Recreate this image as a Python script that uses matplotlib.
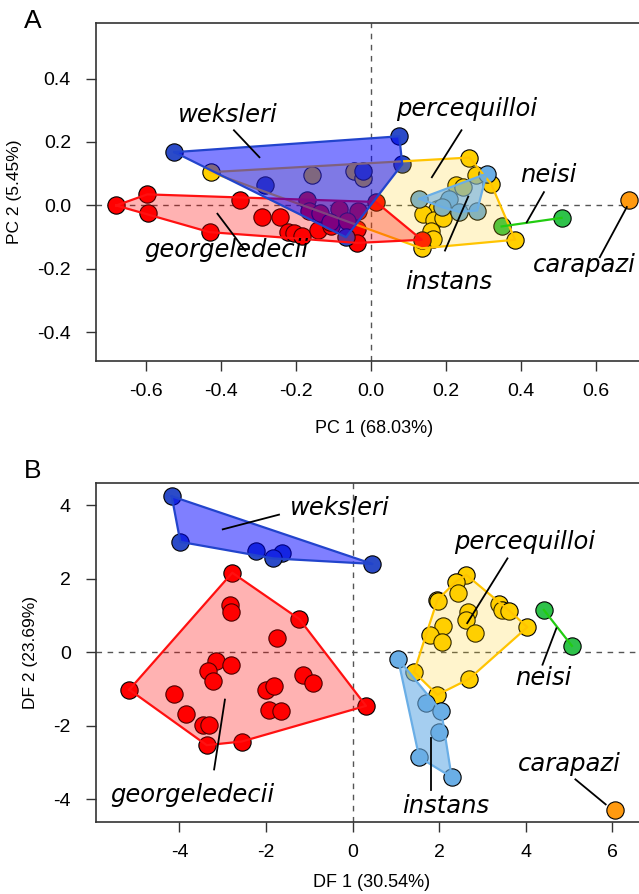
import matplotlib
matplotlib.use("Agg")
import matplotlib.pyplot as plt
import numpy as np

plt.rcParams['font.family'] = ['Liberation Sans', 'DejaVu Sans']

# ---- panel A: PCA scores ----
pca_weksleri_x = [-0.524, -0.282, -0.020, 0.076, 0.084, -0.066]
pca_weksleri_y = [0.168, 0.066, 0.108, 0.218, 0.130, -0.100]

pca_georgeledecii_x = [-0.679, -0.596, -0.593, -0.430, -0.350, -0.291, -0.242, -0.220,
                       -0.205, -0.184, -0.142, -0.107, -0.037, -0.036, 0.014, -0.171,
                       -0.164, -0.135, -0.084, -0.033, -0.108, 0.136, -0.064]
pca_georgeledecii_y = [0.000, 0.035, -0.024, -0.084, 0.016, -0.037, -0.035, -0.082,
                       -0.087, -0.095, -0.076, -0.065, -0.074, -0.118, 0.011, 0.016,
                       -0.016, -0.023, -0.011, -0.016, -0.053, -0.108, -0.050]

pca_percequilloi_x = [-0.427, -0.157, -0.046, -0.022, 0.263, 0.282, 0.321, 0.227, 0.203,
                      0.178, 0.140, 0.169, 0.194, 0.162, 0.167, 0.136, 0.385, 0.245]
pca_percequilloi_y = [0.105, 0.095, 0.108, 0.087, 0.151, 0.097, 0.068, 0.066, 0.007,
                      -0.011, -0.026, -0.045, -0.039, -0.079, -0.105, -0.135, -0.108, 0.058]

pca_instans_x = [0.130, 0.309, 0.284, 0.210, 0.190, 0.235]
pca_instans_y = [0.021, 0.100, -0.016, 0.021, -0.005, -0.020]

pca_neisi_x = [0.349, 0.509]
pca_neisi_y = [-0.066, -0.039]

pca_carapazi_x = [0.689]
pca_carapazi_y = [0.018]

# ---- panel B: DFA scores ----
dfa_weksleri_x = [-4.18, -3.98, -2.24, -1.64, -1.83, 0.46]
dfa_weksleri_y = [4.24, 3.00, 2.76, 2.71, 2.55, 2.40]

dfa_georgeledecii_x = [-2.78, -2.83, -2.81, -1.23, -1.75, -3.16, -2.82, -3.35, -3.23, -5.16,
                       -4.12, -3.86, -3.45, -3.32, -3.37, -2.56, -2.00, -1.81, -1.92, -1.66,
                       -1.14, -0.92, 0.31]
dfa_georgeledecii_y = [2.16, 1.29, 1.09, 0.90, 0.38, -0.24, -0.36, -0.52, -0.78, -1.02,
                       -1.14, -1.68, -1.99, -1.99, -2.53, -2.43, -1.02, -0.93, -1.57, -1.61,
                       -0.62, -0.84, -1.46]

dfa_percequilloi_x = [2.63, 2.39, 2.44, 1.96, 1.98, 3.39, 3.46, 3.62, 2.67, 2.62, 2.08, 1.80,
                      2.06, 2.84, 4.04, 1.42, 2.69, 1.96]
dfa_percequilloi_y = [2.10, 1.92, 1.60, 1.42, 1.38, 1.31, 1.15, 1.13, 1.10, 0.88, 0.70, 0.47,
                      0.29, 0.51, 0.68, -0.54, -0.73, -1.16]

dfa_instans_x = [1.05, 1.69, 2.05, 2.00, 1.54, 2.29]
dfa_instans_y = [-0.18, -1.39, -1.61, -2.17, -2.86, -3.40]

dfa_neisi_x = [4.42, 5.07]
dfa_neisi_y = [1.15, 0.17]

dfa_carapazi_x = [6.06]
dfa_carapazi_y = [-4.30]

# colours: point face, hull line, hull fill, fill alpha
styles = {
    'percequilloi': ('#FFD000', '#FFC400', '#FFCC00', 0.2),
    'instans': ('#6AAEE6', '#6AAEE6', '#6AAEE6', 0.6),
    'georgeledecii': ('#FF0000', '#FF1010', '#FF0000', 0.3),
    'weksleri': ('#2B4BC8', '#2244CC', '#0000FF', 0.5),
    'neisi': ('#2EC24A', '#22CC11', None, 0),
    'carapazi': ('#FF9A10', '#FF9A10', None, 0),
}


def hull(xs, ys):
    pts = sorted(set(zip(xs, ys)))
    if len(pts) < 3:
        return pts

    def cross(o, a, b):
        return (a[0] - o[0]) * (b[1] - o[1]) - (a[1] - o[1]) * (b[0] - o[0])

    lower, upper = [], []
    for p in pts:
        while len(lower) >= 2 and cross(lower[-2], lower[-1], p) <= 0:
            lower.pop()
        lower.append(p)
    for p in reversed(pts):
        while len(upper) >= 2 and cross(upper[-2], upper[-1], p) <= 0:
            upper.pop()
        upper.append(p)
    return lower[:-1] + upper[:-1]


def draw_panel(ax, groups, labels, xlim, ylim, xticks, yticks, xlabel, ylabel, ticklabels,
               xlabelpad=14):
    ax.axhline(0, color='#555555', lw=1, ls=(0, (4, 4)), zorder=1)
    ax.axvline(0, color='#555555', lw=1, ls=(0, (4, 4)), zorder=1)
    # points first, hulls drawn over them (translucent)
    for name, (xs, ys) in groups.items():
        face = styles[name][0]
        ax.scatter(xs, ys, s=155, c=face, edgecolors='black', linewidths=0.8, zorder=2)
    for name, (xs, ys) in groups.items():
        face, line, fill, alpha = styles[name]
        h = hull(xs, ys)
        if len(h) >= 3:
            hx = [p[0] for p in h] + [h[0][0]]
            hy = [p[1] for p in h] + [h[0][1]]
            ax.fill(hx, hy, color=fill, alpha=alpha, lw=0, zorder=3)
            ax.plot(hx, hy, color=line, lw=1.6, zorder=3)
        elif len(h) == 2:
            ax.plot([p[0] for p in h], [p[1] for p in h], color=line, lw=1.6, zorder=3)
    for text, (tx, ty, x0, y0, x1, y1) in labels.items():
        ax.plot([x0, x1], [y0, y1], color='black', lw=1.3, zorder=4)
        ax.text(tx, ty, text, ha='center', va='baseline', fontsize=17.5,
                style='italic', family='DejaVu Sans', zorder=5)
    ax.set_xlim(*xlim)
    ax.set_ylim(*ylim)
    ax.set_xticks(xticks)
    ax.set_yticks(yticks)
    ax.set_xticklabels(ticklabels[0])
    ax.set_yticklabels(ticklabels[1])
    ax.set_xlabel(xlabel, fontsize=13, labelpad=xlabelpad)
    ax.set_ylabel(ylabel, fontsize=12.5, labelpad=11)
    ax.tick_params(length=7, width=1, color='#333333', labelsize=14)
    ax.tick_params(axis='x', pad=9)
    ax.tick_params(axis='y', pad=11)
    for s in ax.spines.values():
        s.set_color('#333333')
        s.set_linewidth(1.2)


fig = plt.figure(figsize=(6.39, 8.94), dpi=100)
axA = fig.add_axes([0.1502, 0.5962, 0.870, 0.3781])
axB = fig.add_axes([0.1502, 0.0805, 0.862, 0.3792])

groupsA = {
    'percequilloi': (pca_percequilloi_x, pca_percequilloi_y),
    'instans': (pca_instans_x, pca_instans_y),
    'georgeledecii': (pca_georgeledecii_x, pca_georgeledecii_y),
    'weksleri': (pca_weksleri_x, pca_weksleri_y),
    'neisi': (pca_neisi_x, pca_neisi_y),
    'carapazi': (pca_carapazi_x, pca_carapazi_y),
}
labelsA = {
    'weksleri': (-0.382, 0.263, -0.365, 0.237, -0.297, 0.152),
    'percequilloi': (0.257, 0.281, 0.242, 0.237, 0.163, 0.089),
    'neisi': (0.475, 0.074, 0.462, 0.042, 0.416, -0.053),
    'carapazi': (0.569, -0.21, 0.683, -0.005, 0.611, -0.163),
    'instans': (0.209, -0.262, 0.260, 0.028, 0.198, -0.142),
    'georgeledecii': (-0.385, -0.161, -0.409, -0.026, -0.335, -0.142),
}
xtA = [-0.6, -0.4, -0.2, 0.0, 0.2, 0.4, 0.6]
ytA = [-0.4, -0.2, 0.0, 0.2, 0.4]
draw_panel(axA, groupsA, labelsA, (-0.733, 0.75), (-0.49, 0.575), xtA, ytA,
           'PC 1 (68.03%)', 'PC 2 (5.45%)',
           ([f'{v:.1f}' for v in xtA], [f'{v:.1f}' for v in ytA]))

groupsB = {
    'percequilloi': (dfa_percequilloi_x, dfa_percequilloi_y),
    'instans': (dfa_instans_x, dfa_instans_y),
    'georgeledecii': (dfa_georgeledecii_x, dfa_georgeledecii_y),
    'weksleri': (dfa_weksleri_x, dfa_weksleri_y),
    'neisi': (dfa_neisi_x, dfa_neisi_y),
    'carapazi': (dfa_carapazi_x, dfa_carapazi_y),
}
labelsB = {
    'weksleri': (-0.30, 3.73, -1.70, 3.74, -3.0, 3.34),
    'percequilloi': (3.98, 2.80, 3.58, 2.55, 2.65, 0.79),
    'neisi': (4.40, -0.89, 4.71, 0.65, 4.39, -0.34),
    'carapazi': (5.01, -3.24, 5.15, -3.46, 5.85, -4.14),
    'instans': (2.15, -4.38, 1.81, -2.33, 1.81, -3.74),
    'georgeledecii': (-3.71, -4.08, -2.95, -1.29, -3.2, -3.19),
}
xtB = [-4, -2, 0, 2, 4, 6]
ytB = [-4, -2, 0, 2, 4]
draw_panel(axB, groupsB, labelsB, (-5.93, 6.8), (-4.62, 4.6), xtB, ytB,
           'DF 1 (30.54%)', 'DF 2 (23.69%)',
           ([str(v) for v in xtB], [str(v) for v in ytB]), xlabelpad=9)

fig.text(33 / 639, 1 - 21 / 894, 'A', fontsize=19, ha='center', va='center')
fig.text(33 / 639, 1 - 471 / 894, 'B', fontsize=19, ha='center', va='center')

fig.savefig('out.png', dpi=100)
